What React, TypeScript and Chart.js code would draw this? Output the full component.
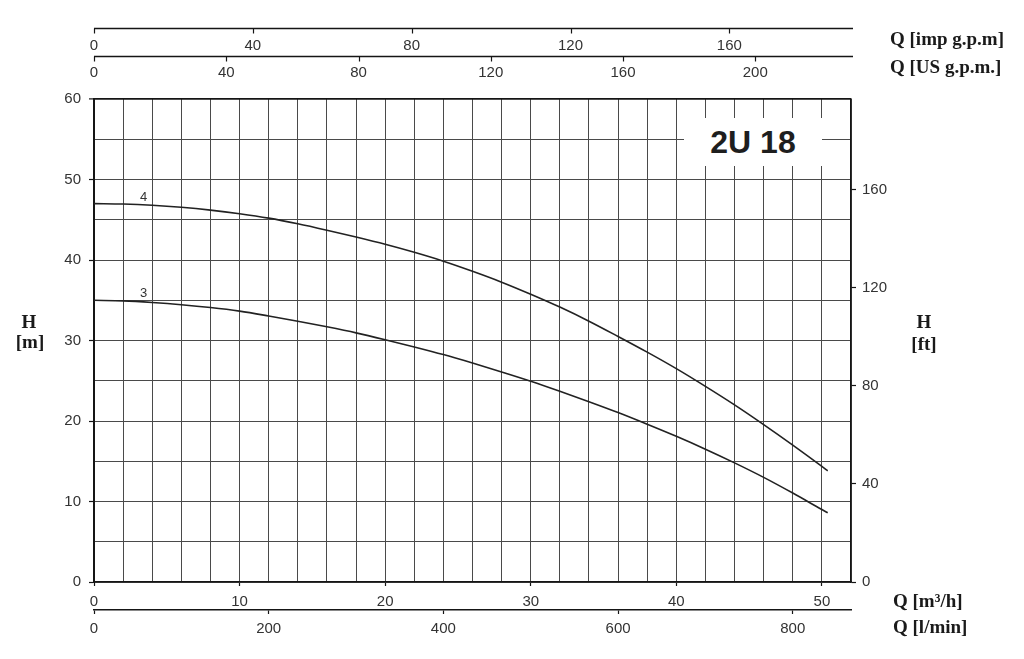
import React, { useEffect, useRef } from 'react';
import { Chart, registerables } from 'chart.js';

Chart.register(...registerables);

// ---- data ----
const flowQ = [0, 2, 4, 6, 8, 10, 12, 14, 16, 18, 20, 22, 24, 26, 28, 30, 32, 34, 36, 38, 40, 42, 44, 46, 48, 50, 50.4];
const headStage4 = [47.0, 46.95, 46.8, 46.55, 46.2, 45.75, 45.2, 44.5, 43.7, 42.85, 41.95, 40.95, 39.85, 38.6, 37.25, 35.75, 34.15, 32.4, 30.5, 28.55, 26.5, 24.3, 22.0, 19.55, 17.0, 14.35, 13.8];
const headStage3 = [35.0, 34.92, 34.72, 34.45, 34.1, 33.65, 33.05, 32.4, 31.7, 30.95, 30.1, 29.2, 28.25, 27.2, 26.1, 24.95, 23.7, 22.4, 21.05, 19.6, 18.1, 16.5, 14.8, 13.0, 11.05, 9.0, 8.6];
const stageNames = ['4', '3'];

// tick labels
const m3hLabels = [0, 10, 20, 30, 40, 50];
const lminTicks = [0, 200, 400, 600, 800];
const impTicks = [0, 40, 80, 120, 160];
const usTicks = [0, 40, 80, 120, 160, 200];
const ftTicks = [0, 40, 80, 120, 160];
const hLabels = [0, 10, 20, 30, 40, 50, 60];

// unit conversions / ranges
const Q_MAX_M3H = 52;
const H_MAX_M = 60;
const LMIN_PER_M3H = 1000 / 60;
const L_PER_IMP_GAL = 4.54609;
const L_PER_US_GAL = 3.78541;
const FT_PER_M = 3.28084;

const tickFont = { family: "'Liberation Sans', Arial, Helvetica, sans-serif", size: 15 };
const tickColor = '#333';
const lineBlack = '#151515';
const gridColor = '#4a4a4a';

const fixedTicks = (arr: number[]) => (s: any) => {
  s.ticks = arr.map((v) => ({ value: v }));
};

const topAxesPlugin = {
  id: 'topAxesLines',
  afterDraw(chart: any) {
    const ctx = chart.ctx;
    ['imp', 'us'].forEach((id) => {
      const s = chart.scales[id];
      if (!s) return;
      const y = Math.round(s.top) + 0.5;
      ctx.save();
      ctx.strokeStyle = lineBlack;
      ctx.lineWidth = 1.5;
      ctx.beginPath();
      ctx.moveTo(chart.chartArea.left, y);
      ctx.lineTo(chart.chartArea.right + 2, y);
      ctx.stroke();
      ctx.lineWidth = 1.2;
      s.ticks.forEach((t: any) => {
        const x = Math.round(s.getPixelForValue(t.value)) + 0.5;
        ctx.beginPath();
        ctx.moveTo(x, y);
        ctx.lineTo(x, y + 5);
        ctx.stroke();
      });
      ctx.restore();
    });
  },
};

const curveLabelPlugin = {
  id: 'curveLabels',
  afterDatasetsDraw(chart: any) {
    const ctx = chart.ctx;
    const xs = chart.scales.x;
    const ys = chart.scales.y;
    ctx.save();
    ctx.fillStyle = '#333';
    ctx.font = "13px 'Liberation Sans', Arial, sans-serif";
    ctx.textAlign = 'center';
    ctx.textBaseline = 'middle';
    chart.data.datasets.forEach((ds: any) => {
      const first = ds.data[0];
      ctx.fillText(ds.label, xs.getPixelForValue(3.4), ys.getPixelForValue(first.y + 0.8));
    });
    ctx.restore();
  },
};

export default function App() {
  const canvasRef = useRef<HTMLCanvasElement | null>(null);

  useEffect(() => {
    if (!canvasRef.current) return;
    const chart = new Chart(canvasRef.current, {
      type: 'line',
      data: {
        datasets: [
          {
            label: stageNames[0],
            data: flowQ.map((q, i) => ({ x: q, y: headStage4[i] })),
            borderColor: '#222',
            borderWidth: 1.6,
            pointRadius: 0,
            cubicInterpolationMode: 'monotone',
            fill: false,
            xAxisID: 'x',
            yAxisID: 'y',
          },
          {
            label: stageNames[1],
            data: flowQ.map((q, i) => ({ x: q, y: headStage3[i] })),
            borderColor: '#222',
            borderWidth: 1.6,
            pointRadius: 0,
            cubicInterpolationMode: 'monotone',
            fill: false,
            xAxisID: 'x',
            yAxisID: 'y',
          },
        ],
      },
      options: {
        responsive: false,
        animation: false,
        layout: { padding: { top: 28, left: 0, right: 0, bottom: 0 } },
        plugins: { legend: { display: false }, tooltip: { enabled: false } },
        scales: {
          x: {
            type: 'linear',
            position: 'bottom',
            weight: 1,
            min: 0,
            max: Q_MAX_M3H,
            ticks: {
              stepSize: 2,
              autoSkip: false,
              maxRotation: 0,
              padding: 7,
              color: tickColor,
              font: tickFont,
              callback: (v: any) => (m3hLabels.includes(v) ? String(v) : ''),
            },
            grid: {
              color: gridColor,
              lineWidth: 1,
              drawTicks: true,
              tickLength: 4,
              tickWidth: 1.2,
              tickColor: (c: any) => (c.tick && m3hLabels.includes(c.tick.value) ? lineBlack : 'rgba(0,0,0,0)'),
            },
            border: { display: true, color: lineBlack, width: 1.5 },
            afterFit: (s: any) => { s.height = 28; },
          },
          lmin: {
            type: 'linear',
            position: 'bottom',
            weight: 2,
            min: 0,
            max: Q_MAX_M3H * LMIN_PER_M3H,
            afterBuildTicks: fixedTicks(lminTicks),
            ticks: { autoSkip: false, maxRotation: 0, padding: 6, color: tickColor, font: tickFont },
            grid: { drawOnChartArea: false, drawTicks: true, tickLength: 4, tickWidth: 1.2, tickColor: lineBlack },
            border: { display: true, color: lineBlack, width: 1.5 },
            afterFit: (s: any) => { s.height = 49; },
          },
          imp: {
            type: 'linear',
            position: 'top',
            weight: 2,
            min: 0,
            max: (Q_MAX_M3H * LMIN_PER_M3H) / L_PER_IMP_GAL,
            afterBuildTicks: fixedTicks(impTicks),
            ticks: { autoSkip: false, maxRotation: 0, padding: 1, color: tickColor, font: tickFont },
            grid: { display: false, drawTicks: false },
            border: { display: false },
            afterFit: (s: any) => { s.height = 28; },
          },
          us: {
            type: 'linear',
            position: 'top',
            weight: 1,
            min: 0,
            max: (Q_MAX_M3H * LMIN_PER_M3H) / L_PER_US_GAL,
            afterBuildTicks: fixedTicks(usTicks),
            ticks: { autoSkip: false, maxRotation: 0, padding: 17, color: tickColor, font: tickFont },
            grid: { display: false, drawTicks: false },
            border: { display: false },
            afterFit: (s: any) => { s.height = 43; },
          },
          y: {
            type: 'linear',
            position: 'left',
            min: 0,
            max: H_MAX_M,
            ticks: {
              stepSize: 5,
              autoSkip: false,
              padding: 8,
              color: tickColor,
              font: tickFont,
              callback: (v: any) => (hLabels.includes(v) ? String(v) : ''),
            },
            grid: {
              color: (c: any) => (c.tick && c.tick.value === H_MAX_M ? lineBlack : gridColor),
              lineWidth: (c: any) => (c.tick && c.tick.value === H_MAX_M ? 1.8 : 1),
              drawTicks: true,
              tickLength: 5,
              tickWidth: 1.2,
              tickColor: (c: any) => (c.tick && hLabels.includes(c.tick.value) ? lineBlack : 'rgba(0,0,0,0)'),
            },
            border: { display: true, color: lineBlack, width: 2 },
            afterFit: (s: any) => { s.width = 94; },
          },
          yft: {
            type: 'linear',
            position: 'right',
            min: 0,
            max: H_MAX_M * FT_PER_M,
            afterBuildTicks: fixedTicks(ftTicks),
            ticks: { autoSkip: false, padding: 6, color: tickColor, font: tickFont },
            grid: { drawOnChartArea: false, drawTicks: true, tickLength: 5, tickWidth: 1.2, tickColor: lineBlack },
            border: { display: true, color: lineBlack, width: 1.5 },
            afterFit: (s: any) => { s.width = 173; },
          },
        },
      } as any,
      plugins: [topAxesPlugin, curveLabelPlugin],
    });
    return () => chart.destroy();
  }, []);

  const serif: React.CSSProperties = {
    position: 'absolute',
    fontFamily: "'Liberation Serif', 'Times New Roman', serif",
    fontWeight: 'bold',
    fontSize: 19,
    lineHeight: 1,
    color: '#1a1a1a',
    whiteSpace: 'nowrap',
    transform: 'translateY(-50%)',
  };
  const centered: React.CSSProperties = { ...serif, transform: 'translate(-50%, -50%)' };

  return (
    <div style={{ position: 'absolute', left: 0, top: 0, width: 1024, height: 659, background: '#fff', overflow: 'hidden' }}>
      <canvas ref={canvasRef} width={1024} height={659} style={{ position: 'absolute', left: 0, top: 0, width: 1024, height: 659 }} />
      <div style={{ ...serif, left: 890, top: 38 }}>Q [imp g.p.m]</div>
      <div style={{ ...serif, left: 890, top: 66 }}>Q [US g.p.m.]</div>
      <div style={{ ...serif, left: 893, top: 600 }}>Q [m³/h]</div>
      <div style={{ ...serif, left: 893, top: 626 }}>Q [l/min]</div>
      <div style={{ ...centered, left: 29, top: 321 }}>H</div>
      <div style={{ ...centered, left: 30, top: 341 }}>[m]</div>
      <div style={{ ...centered, left: 924, top: 321 }}>H</div>
      <div style={{ ...centered, left: 924, top: 343 }}>[ft]</div>
      <div
        style={{
          position: 'absolute',
          left: 684,
          top: 118,
          width: 138,
          height: 48,
          background: '#fff',
          display: 'flex',
          alignItems: 'center',
          justifyContent: 'center',
          fontFamily: "'Liberation Sans', Arial, Helvetica, sans-serif",
          fontWeight: 'bold',
          fontSize: 32,
          color: '#1e1e1e',
        }}
      >
        2U 18
      </div>
    </div>
  );
}
